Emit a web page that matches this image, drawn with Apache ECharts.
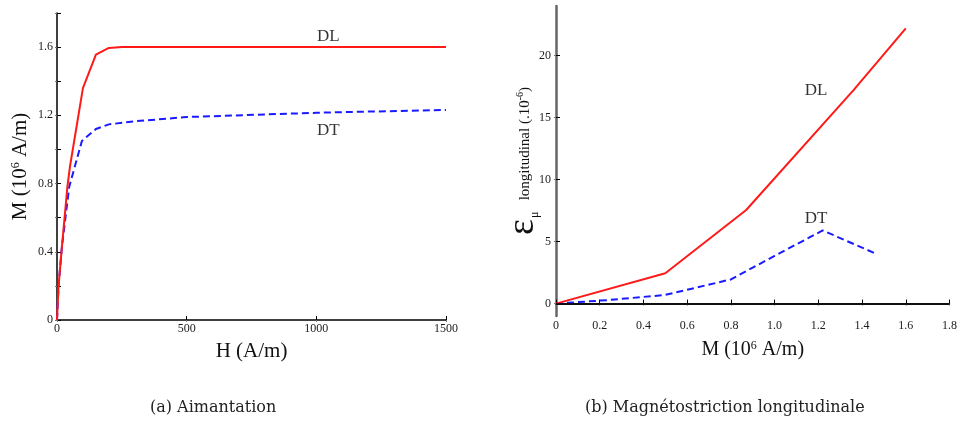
<!DOCTYPE html>
<html><head><meta charset="utf-8">
<script src="https://cdn.jsdelivr.net/npm/echarts@6/dist/echarts.min.js"></script>
<style>html,body{margin:0;padding:0;background:#fff}#c{width:960px;height:430px}</style>
</head><body><div id="c"></div>
<script>
// ---- (a) Aimantation ----
const hDL = [0, 6, 19, 40, 50, 100, 150, 200, 250, 1500];
const mDL = [0, 0.2, 0.43, 0.78, 0.9, 1.36, 1.556, 1.595, 1.6, 1.6];
const hDT = [0, 6, 19, 47, 96, 150, 200, 300, 500, 1000, 1500];
const mDT = [0, 0.2, 0.43, 0.78, 1.05, 1.12, 1.147, 1.165, 1.19, 1.215, 1.232];
const leftYLabels = [0, 0.4, 0.8, 1.2, 1.6];
const leftAnnot = [{name: 'DL', value: [1046, 1.66]}, {name: 'DT', value: [1046, 1.11]}];

// ---- (b) Magnetostriction longitudinale ----
const mDLr = [0, 0.5, 0.87, 1.36, 1.6];
const eDL  = [0, 2.45, 7.55, 17.2, 22.2];
const mDTr = [0, 0.25, 0.5, 0.8, 1.0, 1.22, 1.46];
const eDT  = [0, 0.3, 0.7, 1.95, 3.85, 5.9, 4.05];
const rightYTicks = [0, 5, 10, 15, 20];
const rightAnnot = [{name: 'DL', value: [1.19, 17.2]}, {name: 'DT', value: [1.19, 6.9]}];

const captions = ['(a) Aimantation', '(b) Magnétostriction longitudinale'];

const F = '"Liberation Serif", "Times New Roman", serif';
const RED = '#ff1a1a', BLUE = '#1a1aff';
const pair = (xs, ys) => xs.map((x, i) => [x, ys[i]]);

const chart = echarts.init(document.getElementById('c'), null, {renderer: 'canvas'});

const lblStyle = {fontFamily: F, fontSize: 12, color: '#1a1a1a'};
const hiddenAxis = (extra) => Object.assign({
  axisLine: {show: false}, splitLine: {show: false}, axisLabel: {show: false},
  axisTick: {show: true, inside: true, length: 2, lineStyle: {color: '#777', width: 1}}
}, extra);

const mTitleRich = (size) => ({
  a: {fontFamily: F, fontSize: size, lineHeight: size, color: '#111'},
  s: {fontFamily: F, fontSize: 12, lineHeight: 8, color: '#111', verticalAlign: 'top'}
});

const option = {
  animation: false,
  grid: [
    {left: 57, top: 13, width: 389, height: 307},
    {left: 556, top: 6, width: 394, height: 310}
  ],
  xAxis: [
    {gridIndex: 0, type: 'value', min: 0, max: 1500, interval: 500,
     axisLine: {lineStyle: {color: '#000', width: 1.5}},
     axisTick: {inside: true, length: 4, lineStyle: {color: '#000'}},
     axisLabel: Object.assign({margin: 3, formatter: v => String(v)}, lblStyle),
     splitLine: {show: false},
     name: '{a|H (A/m)}', nameLocation: 'middle', nameGap: 21,
     nameTextStyle: {rich: {a: {fontFamily: F, fontSize: 21, color: '#111'}}}},
    hiddenAxis({gridIndex: 0, type: 'value', position: 'top', min: 0, max: 1500, interval: 500}),
    {gridIndex: 1, type: 'value', min: 0, max: 1.8, interval: 0.2,
     axisLine: {lineStyle: {color: '#000', width: 1.5}},
     axisTick: {inside: true, length: 4, lineStyle: {color: '#000'}},
     axisLabel: Object.assign({margin: 4, formatter: v => v === 0 ? '0' : v.toFixed(1)}, lblStyle),
     splitLine: {show: false},
     name: '{a|M (10}{s|6}{a| A/m)}', nameLocation: 'middle', nameGap: 24,
     nameTextStyle: {rich: mTitleRich(20)}},
    hiddenAxis({gridIndex: 1, type: 'value', position: 'top', min: 0, max: 1.8, interval: 0.2})
  ],
  yAxis: [
    {gridIndex: 0, type: 'value', min: 0, max: 1.8, interval: 0.2,
     axisLine: {lineStyle: {color: '#000', width: 1.5}},
     axisTick: {inside: true, length: 4, lineStyle: {color: '#000'}},
     axisLabel: Object.assign({margin: 4, customValues: leftYLabels,
       formatter: v => v === 0 ? '0' : v.toFixed(1)}, lblStyle),
     splitLine: {show: false},
     name: '{a|M (10}{s|6}{a| A/m)}', nameLocation: 'middle', nameGap: 26,
     nameTextStyle: {rich: mTitleRich(21)}},
    hiddenAxis({gridIndex: 0, type: 'value', position: 'right', min: 0, max: 1.8, interval: 0.2}),
    {gridIndex: 1, type: 'value', min: -1, max: 24,
     axisLine: {lineStyle: {color: '#666', width: 2.5}},
     axisTick: {inside: true, length: 4, customValues: rightYTicks, lineStyle: {color: '#000'}},
     axisLabel: Object.assign({margin: 5, customValues: rightYTicks}, lblStyle),
     splitLine: {show: false},
     name: '{e|ε}{m|μ}{t|   longitudinal (.10}{s|-6}{t|)}', nameLocation: 'middle', nameGap: 14,
     nameMoveOverlap: false,
     nameTextStyle: {rich: {
       e: {fontFamily: F, fontSize: 38, lineHeight: 38, color: '#111'},
       m: {fontFamily: F, fontSize: 12, color: '#111', padding: [24, 0, 0, 1]},
       t: {fontFamily: F, fontSize: 15, color: '#111', padding: [4, 0, 0, 0]},
       s: {fontFamily: F, fontSize: 10, color: '#111', padding: [0, 0, 5, 0]}}}},
    Object.assign(hiddenAxis({gridIndex: 1, type: 'value', position: 'right', min: -1, max: 24}),
      {axisTick: {show: true, inside: true, length: 2, customValues: rightYTicks, lineStyle: {color: '#777'}}})
  ],
  series: [
    {type: 'line', xAxisIndex: 0, yAxisIndex: 0, data: pair(hDL, mDL), symbol: 'none',
     lineStyle: {color: RED, width: 2}, z: 3},
    {type: 'line', xAxisIndex: 0, yAxisIndex: 0, data: pair(hDT, mDT), symbol: 'none',
     lineStyle: {color: BLUE, width: 2, type: [7, 4]}, z: 2},
    {type: 'scatter', xAxisIndex: 0, yAxisIndex: 0, data: leftAnnot, symbolSize: 1,
     itemStyle: {color: 'rgba(0,0,0,0)'},
     label: {show: true, position: 'inside', formatter: p => p.name, fontFamily: F, fontSize: 17, color: '#000'}},
    {type: 'line', xAxisIndex: 2, yAxisIndex: 2, data: pair(mDLr, eDL), symbol: 'none',
     lineStyle: {color: RED, width: 2}, z: 3},
    {type: 'line', xAxisIndex: 2, yAxisIndex: 2, data: pair(mDTr, eDT), symbol: 'none',
     lineStyle: {color: BLUE, width: 2, type: [7, 4]}, z: 2,
     markLine: {silent: true, symbol: ['none', 'none'], label: {show: false},
       lineStyle: {color: '#000', width: 1.5, type: 'solid'}, data: [{yAxis: 0}]}},
    {type: 'scatter', xAxisIndex: 2, yAxisIndex: 2, data: rightAnnot, symbolSize: 1,
     itemStyle: {color: 'rgba(0,0,0,0)'},
     label: {show: true, position: 'inside', formatter: p => p.name, fontFamily: F, fontSize: 17, color: '#000'}}
  ],
  graphic: [
    {type: 'text', left: 150, top: 400, style: {text: captions[0], font: '16px "DejaVu Serif", serif', fill: '#222'}},
    {type: 'text', left: 585, top: 400, style: {text: captions[1], font: '16px "DejaVu Serif", serif', fill: '#222'}}
  ]
};
chart.setOption(option);
</script>
</body></html>
